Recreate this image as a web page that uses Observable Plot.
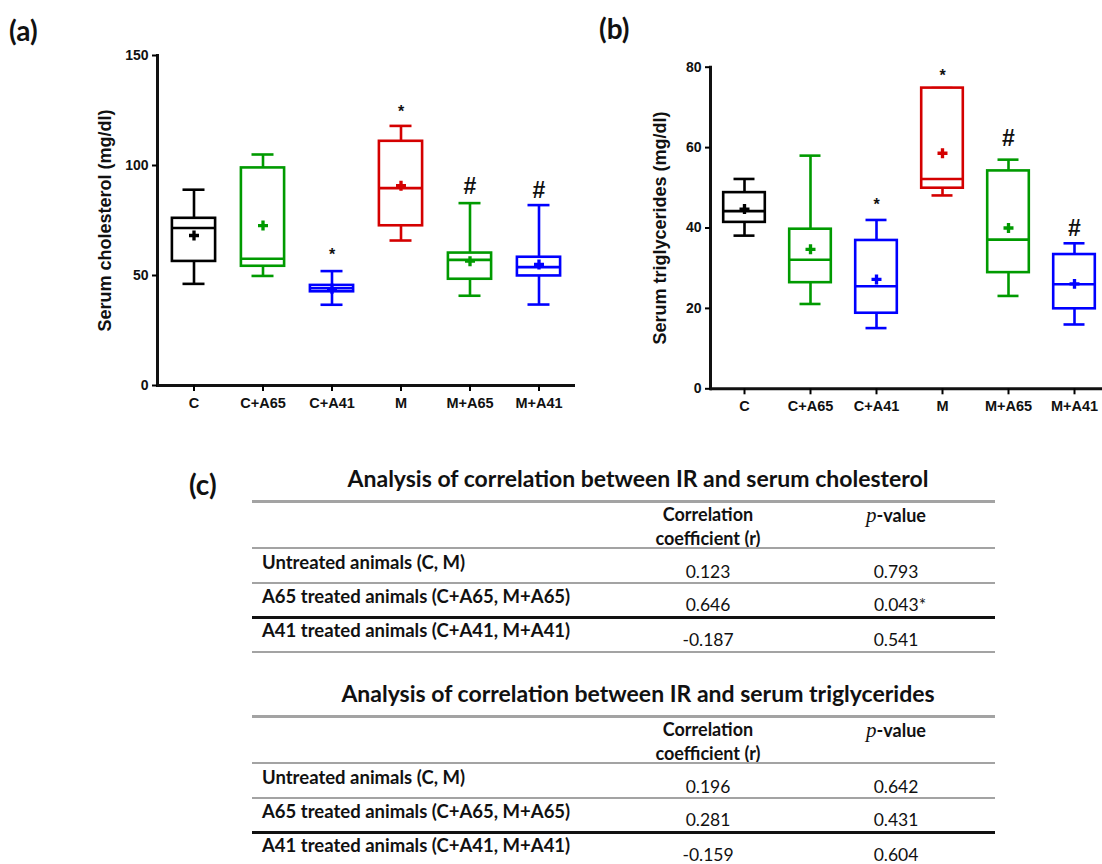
<!DOCTYPE html>
<html>
<head>
<meta charset="utf-8">
<script src="https://cdn.jsdelivr.net/npm/d3@7"></script>
<script src="https://cdn.jsdelivr.net/npm/@observablehq/plot@0.6"></script>
<style>
  html, body { margin: 0; padding: 0; background: #fff; }
  #root { position: relative; width: 1102px; height: 864px; overflow: hidden; background: #fff; }
  .abs { position: absolute; white-space: nowrap; }
  .tbl { font-family: Lato, "Noto Sans", sans-serif; color: #111; }
  .line { position: absolute; }
</style>
</head>
<body>
<div id="root"></div>
<script>
// ---------- DATA ----------
const groups = ["C", "C+A65", "C+A41", "M", "M+A65", "M+A41"];
const groupColors = ["#000000", "#009a00", "#0000ff", "#d40000", "#009a00", "#0000ff"];

// (a) Serum cholesterol (mg/dl)
const cholMin    = [46.2, 49.8, 36.7, 65.9, 40.8, 36.8];
const cholQ1     = [56.4, 54.2, 42.6, 72.6, 48.3, 49.8];
const cholMedian = [71.6, 57.6, 44.2, 89.7, 57.1, 53.8];
const cholQ3     = [76.0, 98.9, 45.5, 111.0, 60.2, 58.3];
const cholMax    = [89.0, 105.0, 52.0, 118.0, 82.9, 82.0];
const cholMean   = [68.2, 72.7, 44.0, 90.8, 56.5, 55.0];
const cholTicks  = [0, 50, 100, 150];
const cholSigGroups = ["C+A41", "M", "M+A65", "M+A41"];
const cholSigLabels = ["*", "*", "#", "#"];
const cholSigY      = [61.4, 126.0, 90.5, 88.6];

// (b) Serum triglycerides (mg/dl)
const trigMin    = [38.1, 21.1, 15.1, 48.1, 23.1, 16.0];
const trigQ1     = [41.4, 26.4, 18.8, 49.9, 28.9, 19.9];
const trigMedian = [44.2, 32.1, 25.5, 52.2, 37.1, 26.0];
const trigQ3     = [48.8, 39.7, 36.9, 74.8, 54.2, 33.4];
const trigMax    = [52.2, 58.0, 42.0, 74.8, 57.0, 36.2];
const trigMean   = [44.7, 34.7, 27.2, 58.6, 40.0, 26.1];
const trigTicks  = [0, 20, 40, 60, 80];
const trigSigGroups = ["C+A41", "M", "M+A65", "M+A41"];
const trigSigLabels = ["*", "*", "#", "#"];
const trigSigY      = [46.8, 78.8, 62.2, 39.8];

// (c) correlation tables
const tableTitles = [
  "Analysis of correlation between IR and serum cholesterol",
  "Analysis of correlation between IR and serum triglycerides"
];
const rowLabels = [
  "Untreated animals (C, M)",
  "A65 treated animals (C+A65, M+A65)",
  "A41 treated animals (C+A41, M+A41)"
];
const cholR = ["0.123", "0.646", "-0.187"];
const cholP = ["0.793", "0.043*", "0.541"];
const trigR = ["0.196", "0.281", "-0.159"];
const trigP = ["0.642", "0.431", "0.604"];

// ---------- BUILD ----------
const root = document.getElementById("root");

function rows(mins, q1s, meds, q3s, maxs, means) {
  return groups.map((g, i) => ({
    group: g, min: mins[i], q1: q1s[i], median: meds[i], q3: q3s[i], max: maxs[i], mean: means[i], color: groupColors[i]
  }));
}
function sigRows(gs, labels, ys) {
  return gs.map((g, i) => ({group: g, label: labels[i], y: ys[i]}));
}

function boxPanel({data, sig, ticks, yMax, label, width, height, mLeft, mTop, mBottom, mRight, xRange, boxInset, capInset, labelOffset}) {
  const sw = 2.6;
  return Plot.plot({
    width, height,
    marginLeft: mLeft, marginTop: mTop, marginBottom: mBottom, marginRight: mRight,
    x: {type: "band", domain: groups, range: xRange, padding: 0},
    y: {domain: [0, yMax]},
    style: {fontFamily: "'Liberation Sans', Arial, sans-serif", background: "transparent", overflow: "visible"},
    marks: [
      Plot.ruleX(data, {x: "group", y1: "min", y2: "max", stroke: "color", strokeWidth: sw}),
      Plot.tickY(data, {x: "group", y: "min", stroke: "color", strokeWidth: sw, insetLeft: capInset, insetRight: capInset}),
      Plot.tickY(data, {x: "group", y: "max", stroke: "color", strokeWidth: sw, insetLeft: capInset, insetRight: capInset}),
      Plot.barY(data, {x: "group", y1: "q1", y2: "q3", fill: "white", stroke: "color", strokeWidth: sw, insetLeft: boxInset, insetRight: boxInset}),
      Plot.tickY(data, {x: "group", y: "median", stroke: "color", strokeWidth: sw, insetLeft: boxInset, insetRight: boxInset}),
      Plot.dot(data, {x: "group", y: "mean", symbol: "cross", r: 4.2, fill: "color", stroke: "none"}),
      Plot.text(sig.filter(d => d.label === "*"), {x: "group", y: "y", text: "label", fontSize: 16, fontWeight: "bold", dy: 4, fill: "#111"}),
      Plot.text(sig.filter(d => d.label === "#"), {x: "group", y: "y", text: "label", fontSize: 23, fontWeight: "bold", fill: "#111"}),
      Plot.ruleY([0], {strokeWidth: 3, stroke: "#111"}),
      Plot.frame({anchor: "left", strokeWidth: 3, stroke: "#111"}),
      Plot.axisY({ticks, tickSize: 5, tickPadding: 4, strokeWidth: 2, fontWeight: "bold", fontSize: 14, label: null, fill: "#111"}),
      Plot.axisX({tickSize: 6, tickPadding: 6, strokeWidth: 2, fontWeight: "bold", fontSize: 14.5, label: null, fill: "#111"}),
      Plot.text([label], {frameAnchor: "left", rotate: -90, dx: -labelOffset, textAnchor: "middle", lineAnchor: "middle", fontSize: 18, fontWeight: "bold", fill: "#111"})
    ]
  });
}

const chol = rows(cholMin, cholQ1, cholMedian, cholQ3, cholMax, cholMean);
const trig = rows(trigMin, trigQ1, trigMedian, trigQ3, trigMax, trigMean);

const plotA = boxPanel({
  data: chol, sig: sigRows(cholSigGroups, cholSigLabels, cholSigY), ticks: cholTicks, yMax: 150,
  label: "Serum cholesterol (mg/dl)",
  width: 580, height: 420, mLeft: 157, mTop: 55, mBottom: 35, mRight: 5,
  xRange: [157, 575], boxInset: 12.9, capInset: 23.5, labelOffset: 52
});
plotA.style.position = "absolute"; plotA.style.left = "0px"; plotA.style.top = "0px";
root.appendChild(plotA);

const plotB = boxPanel({
  data: trig, sig: sigRows(trigSigGroups, trigSigLabels, trigSigY), ticks: trigTicks, yMax: 80,
  label: "Serum triglycerides (mg/dl)",
  width: 512, height: 420, mLeft: 120, mTop: 66.7, mBottom: 31.7, mRight: 0,
  xRange: [120, 517], boxInset: 12.2, capInset: 22.5, labelOffset: 50
});
plotB.style.position = "absolute"; plotB.style.left = "590px"; plotB.style.top = "0px";
root.appendChild(plotB);

// ---------- panel letters ----------
function addText(html, x, y, align, css) {
  const d = document.createElement("div");
  d.className = "abs tbl";
  d.innerHTML = html;
  d.style.left = x + "px";
  d.style.top = y + "px";
  d.style.transform = align === "center" ? "translate(-50%,-50%)" : "translate(0,-50%)";
  Object.assign(d.style, css || {});
  root.appendChild(d);
  return d;
}
function addLine(x1, x2, y, color, w) {
  const d = document.createElement("div");
  d.className = "line";
  d.style.left = x1 + "px";
  d.style.width = (x2 - x1) + "px";
  d.style.top = (y - w / 2) + "px";
  d.style.height = w + "px";
  d.style.background = color;
  root.appendChild(d);
}

const letterCss = {fontSize: "28px", fontWeight: "bold"};
addText("(a)", 9, 30, "left", letterCss);
addText("(b)", 599, 28, "left", letterCss);
addText("(c)", 189, 484, "left", letterCss);

// ---------- tables ----------
function drawTable(t, offset, rs, ps, bottomLine) {
  const X1 = 252, X2 = 995, RX = 708, PX = 896, LX = 262;
  const gray = "#a3a3a3";
  addText(tableTitles[t], 638, 478 + offset, "center", {fontSize: "23px", fontWeight: "bold"});
  addLine(X1, X2, 501.5 + offset, gray, 3);
  addText("Correlation", RX, 514 + offset, "center", {fontSize: "18px", fontWeight: "bold"});
  addText("coefficient (r)", RX, 538 + offset, "center", {fontSize: "18px", fontWeight: "bold"});
  addText("<i style=\"font-family:'Liberation Serif',serif;font-weight:normal;font-size:21px\">p</i>-value", PX, 515 + offset, "center", {fontSize: "18px", fontWeight: "bold"});
  addLine(X1, X2, 548 + offset, gray, 2.5);
  const labelY = [562, 596, 630], valY = [571, 604, 639], lineY = [583, 617, 652];
  const lineC = [gray, "#111", gray], lineW = [2.5, 3, 2.5];
  rowLabels.forEach((lab, i) => {
    addText(lab, LX, labelY[i] + offset, "left", {fontSize: "18.5px", fontWeight: "bold"});
    addText(rs[i], RX, valY[i] + offset, "center", {fontSize: "17.5px"});
    addText(ps[i], PX + (ps[i].endsWith("*") ? 4 : 0), valY[i] + offset, "center", {fontSize: "17.5px"});
    if (i < 2 || bottomLine) addLine(X1, X2, lineY[i] + offset, lineC[i], lineW[i]);
  });
}
drawTable(0, 0, cholR, cholP, true);
drawTable(1, 215, trigR, trigP, true);
</script>
</body>
</html>
